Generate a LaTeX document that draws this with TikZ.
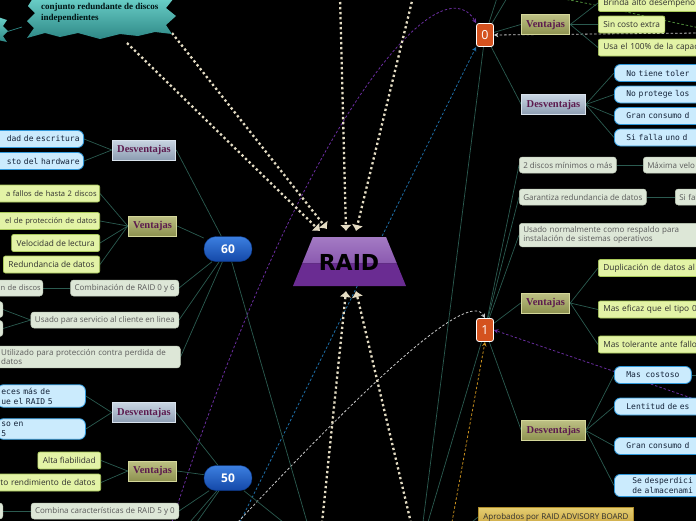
\documentclass[tikz,border=0pt]{standalone}
\usepackage{fontspec}
\setmainfont{Open Sans}
\setmonofont{DejaVu Sans Mono}
\newfontfamily\ramafont{Liberation Serif}
\newfontfamily\raidfont{DejaVu Sans}
\usetikzlibrary{arrows.meta, positioning, backgrounds}

\definecolor{linea}{HTML}{2B5B50}
\definecolor{crema}{HTML}{E4DCC3}
\definecolor{morado}{HTML}{5C1A4E}
\definecolor{hojav}{HTML}{E3F3A6}
\definecolor{hojavb}{HTML}{A9C95A}
\definecolor{hojaa}{HTML}{CBEBFD}
\definecolor{hojaab}{HTML}{2F98DA}
\definecolor{hojag}{HTML}{DDE7D7}
\definecolor{hojagb}{HTML}{C3CFBD}
\definecolor{textog}{HTML}{5A5A5A}
\definecolor{textoo}{HTML}{2E2E2E}
\definecolor{textoa}{HTML}{15243A}
\definecolor{naranja}{HTML}{D4521F}
\definecolor{azulc}{HTML}{3C7FE0}
\definecolor{azulo}{HTML}{1448A8}
\definecolor{azulb}{HTML}{0E3C8E}
\definecolor{desvc}{HTML}{C9D5E2}
\definecolor{desvo}{HTML}{8C9DB2}
\definecolor{desvb}{HTML}{D8E2EC}
\definecolor{ventc}{HTML}{BDC084}
\definecolor{vento}{HTML}{8D914F}
\definecolor{ventb}{HTML}{D4D79A}
\definecolor{oroc}{HTML}{E6CF72}
\definecolor{oroo}{HTML}{C9A43F}
\definecolor{orob}{HTML}{B08E2C}
\definecolor{turqc}{HTML}{6ACFC8}
\definecolor{turqo}{HTML}{2E8886}
\definecolor{raidc}{HTML}{A47BC4}
\definecolor{raidm}{HTML}{8B5AB0}
\definecolor{raido}{HTML}{6A2C92}
\definecolor{rmorado}{HTML}{6A2EA0}
\definecolor{razul}{HTML}{1E6FA8}
\definecolor{rgris}{HTML}{C8C8C8}
\definecolor{rverde}{HTML}{4E8A3A}
\definecolor{roro}{HTML}{C8901E}

\begin{document}
\begin{tikzpicture}[x=1pt, y=-1pt,
		conn/.style={draw=linea, line width=0.7pt},
		puntos/.style={draw=crema, line width=2.3pt, dash pattern=on 2.3pt off 2.7pt,
			-{Latex[length=6pt,width=12pt]}},
		raya/.style={draw=#1, line width=0.8pt, dash pattern=on 2.5pt off 2pt,
			-{Stealth[length=4.5pt,width=4.5pt]}},
		desv/.style={draw=desvb, top color=desvc, bottom color=desvo, line width=0.8pt,
			font=\ramafont\bfseries\fontsize{10.5}{12}\selectfont, text=morado,
			minimum height=20pt, inner xsep=5pt},
		vent/.style={desv, draw=ventb, top color=ventc, bottom color=vento},
		pill/.style={draw=azulb, top color=azulc, bottom color=azulo, rounded corners=12pt,
			minimum width=48pt, minimum height=25pt, text=white,
			font=\bfseries\fontsize{12}{12}\selectfont},
		num/.style={fill=naranja, draw=white, line width=0.8pt, rounded corners=2.5pt,
			text=white, minimum width=17pt, minimum height=23pt, inner sep=0pt,
			font=\fontsize{12.5}{12.5}\selectfont},
		hojaV/.style={fill=hojav, draw=hojavb, line width=0.7pt, rounded corners=2pt,
			minimum height=17pt, inner xsep=5pt, inner ysep=1pt, text=textoo,
			font=\fontsize{8.3}{9.5}\selectfont},
		hojaA/.style={fill=hojaa, draw=hojaab, line width=0.8pt, rounded corners=6pt,
			minimum height=17pt, inner xsep=12pt, inner ysep=1pt, text=textoa,
			font=\ttfamily\fontsize{8}{10}\selectfont},
		hojaG/.style={fill=hojag, draw=hojagb, line width=0.5pt, rounded corners=3pt,
			minimum height=16pt, inner xsep=4pt, inner ysep=1pt, text=textog,
			font=\fontsize{8}{9.5}\selectfont},
		oro/.style={draw=orob, top color=oroc, bottom color=oroo, line width=0.7pt,
			minimum height=20pt, inner xsep=5pt, text=textoo,
			font=\fontsize{8}{9}\selectfont},
		izq/.style={anchor=east, text width=#1, align=right},
		der/.style={anchor=west, text width=#1, align=left}]
		\useasboundingbox (0,0) rectangle (696,520);

		% Tema central
		\fill[raido] (313,237) -- (386,237) -- (406,286) -- (293,286) -- cycle;
		\fill[top color=raidc, bottom color=raidm] (313,237) -- (386,237) -- (396.6,263) -- (302.4,263) -- cycle;
		\node[font=\raidfont\bfseries\fontsize{22}{22}\selectfont, text=black] (raid) at (349,262) {RAID};
		\coordinate (r1) at (320,231);
		\coordinate (r2) at (327,229);
		\coordinate (r3) at (346,231);
		\coordinate (r4) at (356,231);
		\coordinate (r5) at (346,291);
		\coordinate (r6) at (356,291);

		% Nota
		\fill[top color=turqc, bottom color=turqo] (33,-2) -- (28,6) -- (35,13) -- (27,21) -- (34,28) -- (27,38)
			-- (45,33) -- (60,37) -- (78,33) -- (100,39) -- (120,34) -- (138,36) -- (155,32) -- (172,34)
			-- (166,25) -- (176,16) -- (166,8) -- (174,-2) -- cycle;
		\node[anchor=north west, align=left, text=black!85!teal, inner sep=0pt,
			font=\ramafont\bfseries\fontsize{9}{11}\selectfont] (nota) at (41,3)
			{conjunto redundante de discos\\independientes};
		\fill[top color=turqc, bottom color=turqo] (-2,17) -- (7,20) -- (3,26) -- (8,31) -- (3,36) -- (7,42) -- (-2,40) -- cycle;
		\coordinate (mini) at (6,32);
		\coordinate (nota ori) at (22,27);
		\coordinate (nota pico) at (172,33);
		\coordinate (nota sur) at (127,43);

		% Centros
		\node[pill] (n60) at (228,249) {60};
		\node[pill] (n50) at (228,478) {50};
		\node[num] (n0) at (485,35) {0};
		\node[num] (n1) at (485,330) {1};

		% RAID 60
		\node[desv] (d60) at (144,150) {Desventajas};
		\node[vent] (v60) at (152.5,226) {Ventajas};
		\node[hojaA, izq=90pt, inner xsep=4pt] (d60a) at (84,139) {dad de escritura};
		\node[hojaA, izq=90pt, inner xsep=4pt] (d60b) at (84,161) {sto del hardware};
		\node[hojaV, izq=110pt, inner xsep=3pt, font=\fontsize{7.6}{9.5}\selectfont] (v60a) at (100,193.5) {a fallos de hasta 2 discos};
		\node[hojaV, izq=110pt, inner xsep=3pt, font=\fontsize{7.6}{9.5}\selectfont] (v60b) at (100,221) {el de protección de datos};
		\node[hojaV, anchor=east] (v60c) at (100,243) {Velocidad de lectura};
		\node[hojaV, anchor=east] (v60d) at (100,264.5) {Redundancia de datos};
		\node[hojaG, anchor=east] (c60) at (179,288) {Combinación de RAID 0 y 6};
		\node[hojaG, izq=60pt, inner xsep=2pt, font=\fontsize{7.5}{9}\selectfont] (c60a) at (43,288) {n de discos};
		\node[hojaG, anchor=east] (u60) at (179,320) {Usado para servicio al cliente en linea};
		\node[hojaG, anchor=east, minimum width=30pt] (u60a) at (3,309.5) {};
		\node[hojaG, anchor=east, minimum width=30pt] (u60b) at (3,328.5) {};
		\node[hojaG, der=175pt, inner ysep=3pt] (p60) at (-3,357) {Utilizado para protección contra perdida de\\datos};

		% RAID 50
		\node[desv] (d50) at (144,412.5) {Desventajas};
		\node[vent] (v50) at (152.5,471) {Ventajas};
		\node[hojaA, der=80pt, inner xsep=4pt, inner ysep=3pt] (d50a) at (-3,396) {eces más de\\ue el RAID 5};
		\node[hojaA, der=80pt, inner xsep=4pt, inner ysep=3pt] (d50b) at (-3,429) {so en\\5};
		\node[hojaV, anchor=east] (v50a) at (101,460.5) {Alta fiabilidad};
		\node[hojaV, izq=110pt] (v50b) at (101,482.5) {to rendimiento de datos};
		\node[hojaG, anchor=east] (c50) at (179,511) {Combina características de RAID 5 y 0};
		\node[hojaG, anchor=east, minimum width=30pt] (c50a) at (3,511) {};

		% RAID 0
		\node[vent] (v0) at (545.5,24.5) {Ventajas};
		\node[desv] (d0) at (553.5,104.5) {Desventajas};
		\node[hojaV, der=110pt] (v0a) at (598,3) {Brinda alto desempeño};
		\node[hojaV, anchor=west] (v0b) at (598,24.5) {Sin costo extra};
		\node[hojaV, der=110pt] (v0c) at (598,47.5) {Usa el 100\% de la capaci};
		\node[hojaA, der=100pt] (d0a) at (614,73) {No tiene toler};
		\node[hojaA, der=100pt] (d0b) at (614,94.5) {No protege los};
		\node[hojaA, der=100pt] (d0c) at (614,116) {Gran consumo d};
		\node[hojaA, der=100pt] (d0d) at (614,137.5) {Si falla uno d};

		% RAID 1
		\node[hojaG, anchor=west] (g1a) at (519,165) {2 discos mínimos o más};
		\node[hojaG, der=80pt] (g1b) at (643,165) {Máxima velo};
		\node[hojaG, anchor=west] (g1c) at (519,197) {Garantiza redundancia de datos};
		\node[hojaG, der=60pt] (g1d) at (675,197) {Si fal};
		\node[hojaG, der=200pt, inner ysep=3pt] (g1e) at (519,235) {Usado normalmente como respaldo para\\instalación de sistemas operativos};
		\node[vent] (v1) at (545.5,303) {Ventajas};
		\node[hojaV, der=110pt] (v1a) at (598,268) {Duplicación de datos al};
		\node[hojaV, der=110pt] (v1b) at (598,309.5) {Mas eficaz que el tipo 0};
		\node[hojaV, der=110pt] (v1c) at (598,344.5) {Mas tolerante ante fallo};
		\node[vent] (d1) at (553.5,430.5) {Desventajas};
		\node[hojaA, anchor=west] (d1a) at (614,375) {Mas costoso};
		\node[hojaA, der=100pt] (d1b) at (614,406.5) {Lentitud de es};
		\node[hojaA, der=100pt] (d1c) at (614,446) {Gran consumo d};
		\node[hojaA, der=100pt, inner xsep=18pt, inner ysep=3pt] (d1d) at (614,485.5) {Se desperdici\\de almacenami};
		\node[oro, anchor=west] (ap) at (478,517) {Aprobados por RAID ADVISORY BOARD};

		% Extremos libres
		\coordinate (f60) at (307,522);
		\coordinate (fa50) at (190,522);
		\coordinate (fb50) at (197,522);
		\coordinate (fc50) at (283,522);
		\coordinate (ta0) at (497,-2);
		\coordinate (tb0) at (507,-2);
		\coordinate (f0) at (423,522);
		\coordinate (f1) at (428,522);
		\coordinate (fd1a) at (700,375);
		\coordinate (fap) at (472,522);
		\coordinate (pm) at (172,522);
		\coordinate (pa) at (240,522);
		\coordinate (pb) at (238,522);
		\coordinate (pm2) at (700,401);
		\coordinate (pw) at (700,33);
		\coordinate (pv1) at (558,-2);
		\coordinate (pv2) at (700,28);
		\coordinate (po) at (452,522);
		\coordinate (tc) at (340,-3);
		\coordinate (td) at (413,-3);
		\coordinate (be) at (322,523);
		\coordinate (bf) at (411,523);

		\begin{scope}[on background layer]
			\fill[black] (-5,-5) rectangle (701,525);
			% Relaciones
			\draw[raya=rverde, -] (pv1) .. controls (600,5) and (650,18) .. (pv2);
			\draw[raya=rmorado] (pm) .. controls (300,120) and (440,-40) .. (n0.north west);
			\draw[raya=razul] (pa) -- (n0.south west);
			\draw[raya=rgris] (pw) -- (n0.east);
			\draw[raya=rgris] (pb) .. controls (380,370) and (470,290) .. (n1.north);
			\draw[raya=rmorado] (pm2) -- (n1.east);
			\draw[raya=roro] (po) -- (n1.south);
			% Flechas al centro
			\draw[puntos] (nota sur) -- (r1);
			\draw[puntos] (nota pico) -- (r2);
			\draw[puntos] (tc) -- (r3);
			\draw[puntos] (td) -- (r4);
			\draw[puntos] (be) -- (r5);
			\draw[puntos] (bf) -- (r6);
			% Ramas
			\draw[conn, draw=turqo] (mini) -- (nota ori);
			\foreach \h in {d60, v60, c60, u60, p60}
				\draw[conn] (n60) -- (\h.east);
			\draw[conn] (n60) -- (f60);
			\foreach \h in {d50, v50, c50}
				\draw[conn] (n50) -- (\h.east);
			\foreach \h in {fa50, fb50, fc50}
				\draw[conn] (n50) -- (\h);
			\foreach \h in {v0, d0}
				\draw[conn] (n0) -- (\h.west);
			\foreach \h in {ta0, tb0, f0}
				\draw[conn] (n0) -- (\h);
			\foreach \h in {g1a, g1c, g1e, v1, d1}
				\draw[conn] (n1) -- (\h.west);
			\draw[conn] (n1) -- (f1);
			\foreach \h in {d60a, d60b}
				\draw[conn] (d60.west) -- (\h.east);
			\foreach \h in {v60a, v60b, v60c, v60d}
				\draw[conn] (v60.west) -- (\h.east);
			\draw[conn] (c60.west) -- (c60a.east);
			\foreach \h in {u60a, u60b}
				\draw[conn] (u60.west) -- (\h.east);
			\foreach \h in {d50a, d50b}
				\draw[conn] (d50.west) -- (\h.east);
			\foreach \h in {v50a, v50b}
				\draw[conn] (v50.west) -- (\h.east);
			\draw[conn] (c50.west) -- (c50a.east);
			\foreach \h in {v0a, v0b, v0c}
				\draw[conn] (v0.east) -- (\h.west);
			\foreach \h in {d0a, d0b, d0c, d0d}
				\draw[conn] (d0.east) -- (\h.west);
			\draw[conn] (g1a.east) -- (g1b.west);
			\draw[conn] (g1c.east) -- (g1d.west);
			\foreach \h in {v1a, v1b, v1c}
				\draw[conn] (v1.east) -- (\h.west);
			\foreach \h in {d1a, d1b, d1c, d1d}
				\draw[conn] (d1.east) -- (\h.west);
			\draw[conn] (d1a.east) -- (fd1a);
			\draw[conn] (ap.west) -- (fap);
		\end{scope}
	\end{tikzpicture}
\end{document}
